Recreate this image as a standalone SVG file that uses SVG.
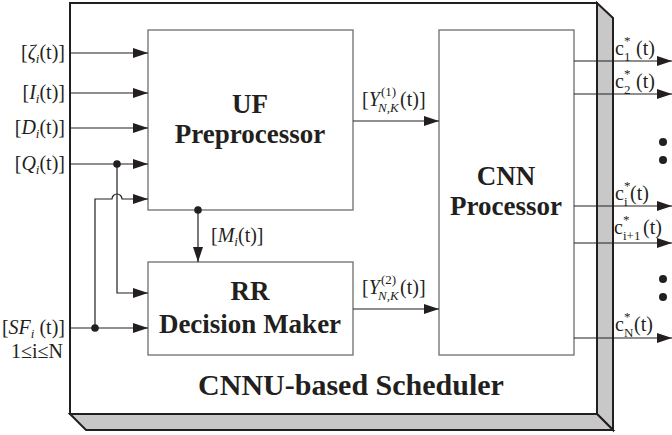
<svg xmlns="http://www.w3.org/2000/svg" width="672" height="435" viewBox="0 0 672 435">
<style>
text{font-family:"Liberation Serif","Times New Roman",serif;fill:#231f20}
.lbl{font-size:20px}
.s{font-size:13px}
.big{font-size:27px;font-weight:bold;text-anchor:middle}
.title{font-size:30px;font-weight:bold;text-anchor:middle}
.it{font-style:italic}
.box{fill:#fff;stroke:#6d6d6d;stroke-width:1.3}
.ln{fill:none;stroke:#231f20;stroke-width:1.2}
.dot{fill:#231f20}
</style>
<defs>
<marker id="ah" markerWidth="15" markerHeight="10" refX="15" refY="5" orient="auto" markerUnits="userSpaceOnUse">
<path d="M0,0 L15,5 L0,10 Z" fill="#231f20"/>
</marker>
</defs>
<g id="scheduler">
<polygon points="597,3 613,18 613,430 597,414" fill="#c8c8c8" stroke="#231f20" stroke-width="2"/>
<polygon points="70,414 597,414 613,430 86,430" fill="#c8c8c8" stroke="#231f20" stroke-width="2"/>
<rect x="70" y="3" width="527" height="411" fill="#fff" stroke="#231f20" stroke-width="2"/>
<text class="title" x="351" y="395">CNNU-based Scheduler</text>
</g>
<g id="uf">
<rect class="box" x="148" y="30" width="205" height="180"/>
<text class="big" x="250" y="113">UF</text>
<text class="big" x="250" y="143">Preprocessor</text>
</g>
<g id="rr">
<rect class="box" x="148" y="262" width="205" height="93"/>
<text class="big" x="250" y="300">RR</text>
<text class="big" x="250" y="333">Decision Maker</text>
</g>
<g id="cnn">
<rect class="box" x="439" y="30" width="135" height="325"/>
<text class="big" x="506" y="185">CNN</text>
<text class="big" x="506" y="215">Processor</text>
</g>
<g id="connectors">
<line class="ln" x1="70" y1="53" x2="148" y2="53" marker-end="url(#ah)"/>
<line class="ln" x1="70" y1="93" x2="148" y2="93" marker-end="url(#ah)"/>
<line class="ln" x1="70" y1="128" x2="148" y2="128" marker-end="url(#ah)"/>
<line class="ln" x1="70" y1="164" x2="148" y2="164" marker-end="url(#ah)"/>
<polyline class="ln" points="117,164 117,293 148,293" marker-end="url(#ah)"/>
<circle class="dot" cx="117" cy="164" r="3.8"/>
<line class="ln" x1="70" y1="328" x2="148" y2="328" marker-end="url(#ah)"/>
<path class="ln" d="M95,328 L95,199 L112,199 A5,5 0 0 1 122,199 L148,199" marker-end="url(#ah)"/>
<circle class="dot" cx="95" cy="328" r="3.8"/>
<line class="ln" x1="198" y1="210" x2="198" y2="262" marker-end="url(#ah)"/>
<circle class="dot" cx="198" cy="210" r="3.8"/>
<line class="ln" x1="353" y1="121" x2="439" y2="121" marker-end="url(#ah)"/>
<line class="ln" x1="353" y1="309" x2="439" y2="309" marker-end="url(#ah)"/>
<line class="ln" x1="574" y1="61" x2="672" y2="61" marker-end="url(#ah)"/>
<line class="ln" x1="574" y1="94" x2="672" y2="94" marker-end="url(#ah)"/>
<line class="ln" x1="574" y1="206" x2="672" y2="206" marker-end="url(#ah)"/>
<line class="ln" x1="574" y1="243" x2="672" y2="243" marker-end="url(#ah)"/>
<line class="ln" x1="574" y1="338" x2="672" y2="338" marker-end="url(#ah)"/>
<circle class="dot" cx="663" cy="142" r="4"/>
<circle class="dot" cx="663" cy="160" r="4"/>
<circle class="dot" cx="663" cy="279" r="4"/>
<circle class="dot" cx="663" cy="297" r="4"/>
</g>
<g id="labels" class="lbl">
<text x="65" y="59" text-anchor="end">[<tspan class="it">ζ</tspan><tspan class="it s" dy="4">i</tspan><tspan dy="-4">(t)]</tspan></text>
<text x="65" y="99" text-anchor="end">[<tspan class="it">I</tspan><tspan class="it s" dy="4">i</tspan><tspan dy="-4">(t)]</tspan></text>
<text x="65" y="134" text-anchor="end">[<tspan class="it">D</tspan><tspan class="it s" dy="4">i</tspan><tspan dy="-4">(t)]</tspan></text>
<text x="65" y="170" text-anchor="end">[<tspan class="it">Q</tspan><tspan class="it s" dy="4">i</tspan><tspan dy="-4">(t)]</tspan></text>
<text x="65" y="334" text-anchor="end">[<tspan class="it">SF</tspan><tspan class="it s" dy="4">i</tspan><tspan dy="-4"> (t)]</tspan></text>
<text x="63" y="358" text-anchor="end">1≤i≤N</text>
<text x="211" y="242">[<tspan class="it">M</tspan><tspan class="it s" dy="4">i</tspan><tspan dy="-4">(t)]</tspan></text>
<text x="362" y="106">[<tspan class="it">Y</tspan><tspan class="s" x="381" y="96">(1)</tspan><tspan class="it s" x="378" y="112">N,K</tspan><tspan x="400" y="106">(t)]</tspan></text>
<text x="362" y="294">[<tspan class="it">Y</tspan><tspan class="s" x="381" y="284">(2)</tspan><tspan class="it s" x="378" y="300">N,K</tspan><tspan x="400" y="294">(t)]</tspan></text>
<text x="615" y="55">c<tspan class="s" x="624" y="45">*</tspan><tspan class="s" x="624" y="61">1</tspan><tspan x="636" y="55">(t)</tspan></text>
<text x="615" y="88">c<tspan class="s" x="624" y="78">*</tspan><tspan class="s" x="624" y="94">2</tspan><tspan x="636" y="88">(t)</tspan></text>
<text x="615" y="200">c<tspan class="s" x="624" y="190">*</tspan><tspan class="s" x="624" y="206">i</tspan><tspan x="630" y="200">(t)</tspan></text>
<text x="614" y="234">c<tspan class="s" x="623" y="224">*</tspan><tspan class="s" x="623" y="240">i+1</tspan><tspan x="643" y="234">(t)</tspan></text>
<text x="615" y="331">c<tspan class="s" x="624" y="321">*</tspan><tspan class="s" x="624" y="337">N</tspan><tspan x="634" y="331">(t)</tspan></text>
</g>
</svg>
